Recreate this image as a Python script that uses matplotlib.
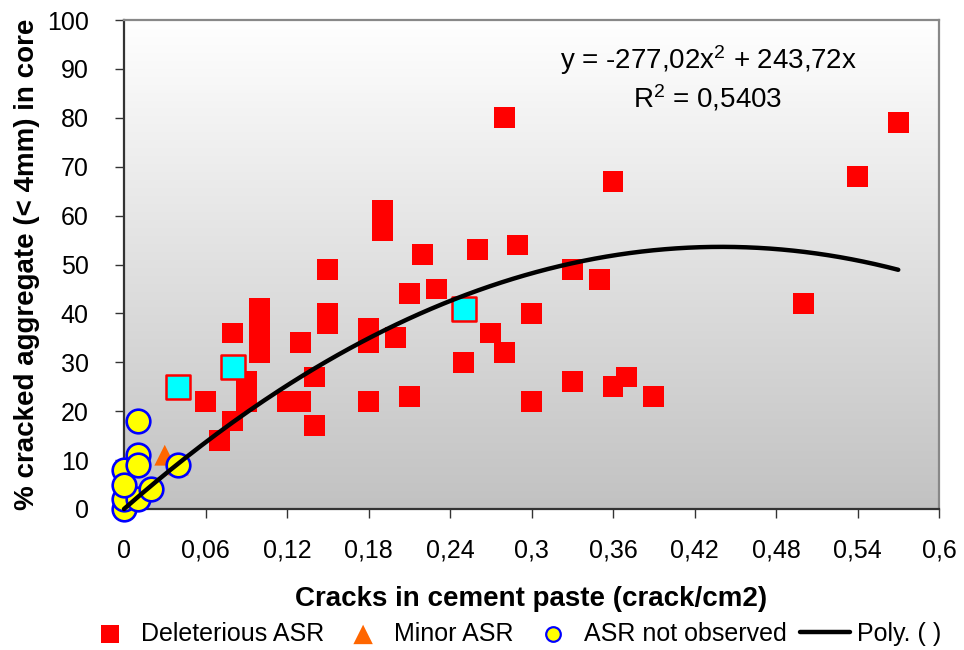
import numpy as np
import matplotlib
matplotlib.use("Agg")
import matplotlib.pyplot as plt

plt.rcParams["font.family"] = ["Liberation Sans", "DejaVu Sans"]
plt.rcParams["mathtext.fontset"] = "custom"
plt.rcParams["mathtext.rm"] = "Liberation Sans"
plt.rcParams["mathtext.it"] = "Liberation Sans"

# Deleterious ASR
x_del = [0.06, 0.07, 0.08, 0.08, 0.09, 0.09, 0.10, 0.10, 0.10, 0.10, 0.12, 0.13,
         0.13, 0.14, 0.14, 0.15, 0.15, 0.15, 0.18, 0.18, 0.18, 0.19, 0.19, 0.20,
         0.21, 0.21, 0.22, 0.23, 0.25, 0.26, 0.27, 0.28, 0.28, 0.29, 0.30, 0.30,
         0.33, 0.33, 0.35, 0.36, 0.36, 0.37, 0.39, 0.50, 0.54, 0.57]
y_del = [22, 14, 36, 18, 26, 22, 41, 37, 34, 32, 22, 22,
         34, 27, 17, 49, 40, 38, 37, 34, 22, 61, 57, 35,
         44, 23, 52, 45, 30, 53, 36, 80, 32, 54, 40, 22,
         49, 26, 47, 67, 25, 27, 23, 42, 68, 79]

# highlighted deleterious samples (cyan squares)
x_hi = [0.04, 0.08, 0.25]
y_hi = [25, 29, 41]

# Minor ASR
x_min = [0.01, 0.03, 0.04]
y_min = [11, 11, 9]

# ASR not observed
x_no = [0.0, 0.0, 0.0, 0.01, 0.01, 0.01, 0.01, 0.02, 0.04, 0.0]
y_no = [0, 2, 8, 18, 11, 9, 2, 4, 9, 5]

# polynomial trendline y = a x^2 + b x
coef_a, coef_b = -277.02, 243.72
x_end = 0.57

x_ticks = [0, 0.06, 0.12, 0.18, 0.24, 0.3, 0.36, 0.42, 0.48, 0.54, 0.6]
x_tick_labels = ["0", "0,06", "0,12", "0,18", "0,24", "0,3", "0,36", "0,42", "0,48", "0,54", "0,6"]
y_ticks = list(range(0, 101, 10))

fig = plt.figure(figsize=(9.64, 6.5), dpi=100)
ax = fig.add_axes([124 / 964, 1 - 509 / 650, 815 / 964, 489 / 650])

# grey gradient plot area
shade = np.linspace(1.0, 0.76, 256)
grad = np.dstack([shade, shade, shade]).reshape(256, 1, 3)
ax.imshow(grad, extent=[0, 0.6, 0, 100], aspect="auto", zorder=0, interpolation="bilinear")

ax.scatter(x_del, y_del, marker="s", s=15 ** 2, c="#ff0000", edgecolors="none",
           zorder=2, label="Deleterious ASR")
ax.scatter(x_hi, y_hi, marker="s", s=17 ** 2, c="#00ffff", edgecolors="#ff0000",
           linewidths=1.8, zorder=3)
ax.scatter(x_min, y_min, marker="^", s=15 ** 2, c="#ff6600", edgecolors="none",
           zorder=3, label="Minor ASR")
ax.scatter(x_no, y_no, marker="o", s=17 ** 2, c="#ffff00", edgecolors="#0000ff",
           linewidths=1.9, zorder=4, label="ASR not observed", clip_on=False)

xf = np.linspace(0, x_end, 200)
ax.plot(xf, coef_a * xf ** 2 + coef_b * xf, color="black", lw=3.2,
        solid_capstyle="round", zorder=5, label="Poly. ( )", clip_on=False)

ax.text(0.43, 91.8, "y = -277,02x$^{2}$ + 243,72x", ha="center", va="center", fontsize=20)
ax.text(0.43, 84.0, "R$^{2}$ = 0,5403", ha="center", va="center", fontsize=20)

ax.set_xlim(0, 0.6)
ax.set_ylim(0, 100)
ax.set_xticks(x_ticks)
ax.set_xticklabels(x_tick_labels)
ax.set_yticks(y_ticks)
ax.tick_params(axis="both", direction="out", length=6.5, width=1, labelsize=18,
               color="#333333")
ax.tick_params(axis="x", pad=15)
ax.tick_params(axis="y", pad=19)

for side in ["left", "bottom"]:
    ax.spines[side].set_color("#333333")
    ax.spines[side].set_linewidth(1.6)
for side in ["top", "right"]:
    ax.spines[side].set_color("#888888")
    ax.spines[side].set_linewidth(1.6)

ax.set_xlabel("Cracks in cement paste (crack/cm2)", fontsize=20, fontweight="bold", labelpad=17)
ax.set_ylabel("% cracked aggregate (< 4mm) in core", fontsize=20, fontweight="bold", labelpad=5)

leg = fig.legend(loc="center", bbox_to_anchor=(0.532, 1 - 634 / 650), ncol=4, frameon=False,
                 fontsize=18, handlelength=2.0, handletextpad=0.25, columnspacing=0.55,
                 borderpad=0)
hs = leg.legend_handles
hs[0].set_sizes([13 ** 2])
hs[1].set_sizes([14 ** 2])
hs[2].set_sizes([10.5 ** 2])
hs[2].set_linewidths([1.6])

fig.savefig("out.png", dpi=100)
